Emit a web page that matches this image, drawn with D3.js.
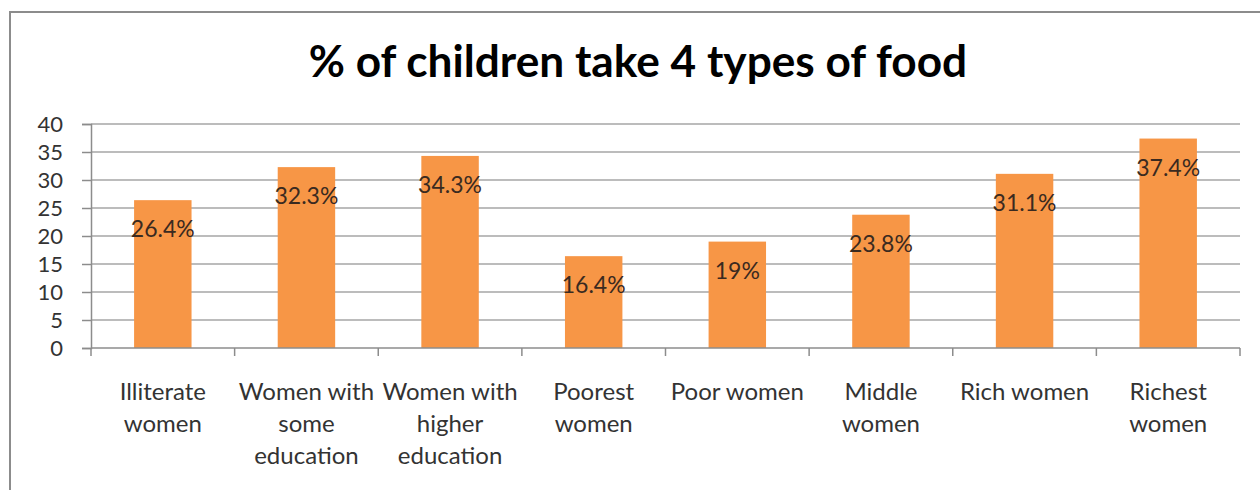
<!DOCTYPE html>
<html lang="en">
<head>
    <meta charset="UTF-8">
    <title>% of children take 4 types of food</title>
    <script src="https://d3js.org/d3.v7.min.js"></script>
    <style>
        body { margin: 0; background: #fff; }
        svg { display: block; }
        .axis text { font-family: Lato, "Open Sans", sans-serif; font-size: 22px; fill: #333; }
        .grid line { stroke: #a6a6a6; stroke-width: 1.5; }
    </style>
</head>
<body>
    <div id="chart"><svg></svg></div>
    <script>
        // data
        var categories = ["Illiterate\nwomen", "Women with\nsome\neducation", "Women with\nhigher\neducation",
                          "Poorest\nwomen", "Poor women", "Middle\nwomen", "Rich women", "Richest\nwomen"];
        var values = [26.4, 32.3, 34.3, 16.4, 19, 23.8, 31.1, 37.4];
        var labels = ["26.4%", "32.3%", "34.3%", "16.4%", "19%", "23.8%", "31.1%", "37.4%"];
        var yTicks = [0, 5, 10, 15, 20, 25, 30, 35, 40];

        var width = 1260, height = 490;
        var margin = { top: 124, right: 20, bottom: 142, left: 91 };
        var innerW = width - margin.left - margin.right;
        var innerH = height - margin.top - margin.bottom;

        var svg = d3.select("#chart svg")
                    .attr("width", width)
                    .attr("height", height);

        // outer frame (only left and top edges are visible)
        svg.append("path")
           .attr("d", "M10,490 V12 H1260")
           .attr("fill", "none")
           .attr("stroke", "#8c8c8c")
           .attr("stroke-width", 2);

        // title, scaled to the reference width
        var title = svg.append("text")
           .attr("x", 638)
           .attr("y", 77)
           .attr("text-anchor", "middle")
           .style("font-family", "Lato, 'Open Sans', sans-serif")
           .style("font-weight", "bold")
           .style("font-size", "40px")
           .attr("fill", "#000")
           .text("% of children take 4 types of food");
        var tw = title.node().getComputedTextLength();
        title.style("font-size", (40 * 659 / tw).toFixed(1) + "px");

        var g = svg.append("g")
                   .attr("transform", "translate(" + margin.left + "," + margin.top + ")");

        var x = d3.scaleBand()
                  .domain(categories)
                  .range([0, innerW])
                  .padding(0);

        var y = d3.scaleLinear()
                  .domain([0, 40])
                  .range([innerH, 0]);

        // gridlines
        g.append("g")
         .attr("class", "grid")
         .selectAll("line")
         .data(yTicks.filter(function(d) { return d > 0; }))
         .enter().append("line")
         .attr("x1", 0)
         .attr("x2", innerW)
         .attr("y1", function(d) { return y(d); })
         .attr("y2", function(d) { return y(d); });

        // bars
        var barW = x.bandwidth() * 0.4;
        g.selectAll(".bar")
         .data(values)
         .enter().append("rect")
         .attr("class", "bar")
         .attr("x", function(d, i) { return x(categories[i]) + (x.bandwidth() - barW) / 2; })
         .attr("y", function(d) { return y(d); })
         .attr("width", barW)
         .attr("height", function(d) { return innerH - y(d); })
         .attr("fill", "#f79646");

        // data labels
        g.selectAll(".lbl")
         .data(values)
         .enter().append("text")
         .attr("class", "lbl")
         .attr("x", function(d, i) { return x(categories[i]) + x.bandwidth() / 2; })
         .attr("y", function(d) { return y(d) + 37; })
         .attr("text-anchor", "middle")
         .style("font-family", "Lato, 'Open Sans', sans-serif")
         .style("font-size", "23px")
         .attr("fill", "#3a2a20")
         .text(function(d, i) { return labels[i]; });

        // y axis
        var yAxis = g.append("g")
         .attr("class", "axis")
         .call(d3.axisLeft(y).tickValues(yTicks).tickSize(9).tickPadding(19));
        yAxis.select(".domain").attr("stroke", "#8c8c8c").attr("stroke-width", 1.5);
        yAxis.selectAll(".tick line").attr("stroke", "#8c8c8c").attr("stroke-width", 1.5);

        // x axis: ticks sit on band boundaries
        var xAxis = g.append("g")
         .attr("class", "axis")
         .attr("transform", "translate(0," + innerH + ")");
        xAxis.append("line")
         .attr("x1", 0).attr("x2", innerW)
         .attr("stroke", "#8c8c8c").attr("stroke-width", 1.5);
        xAxis.selectAll(".xt")
         .data(categories.concat([null]))
         .enter().append("line")
         .attr("class", "xt")
         .attr("x1", function(d) { return d === null ? innerW : x(d); })
         .attr("x2", function(d) { return d === null ? innerW : x(d); })
         .attr("y1", 0).attr("y2", 8)
         .attr("stroke", "#8c8c8c").attr("stroke-width", 1.5);

        var catText = xAxis.selectAll(".cat")
         .data(categories)
         .enter().append("text")
         .attr("class", "cat")
         .attr("text-anchor", "middle")
         .style("font-size", "24px")
         .attr("transform", function(d) { return "translate(" + (x(d) + x.bandwidth() / 2) + ",52)"; });
        catText.selectAll("tspan")
         .data(function(d) { return d.split("\n"); })
         .enter().append("tspan")
         .attr("x", 0)
         .attr("y", function(d, i) { return i * 32; })
         .text(function(d) { return d; });
    </script>
</body>
</html>
